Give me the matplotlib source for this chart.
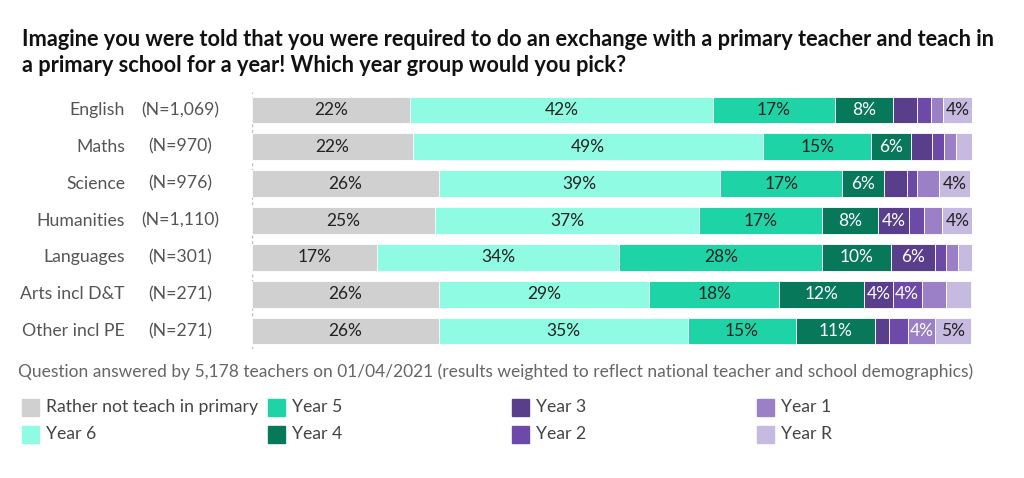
import matplotlib
matplotlib.use("Agg")
import numpy as np
from matplotlib import pyplot as plt
from matplotlib.patches import Rectangle

plt.rcParams["font.family"] = ["Lato", "DejaVu Sans"]

subjects = ["English", "Maths", "Science", "Humanities", "Languages", "Arts incl D&T", "Other incl PE"]
counts = ["(N=1,069)", "(N=970)", "(N=976)", "(N=1,110)", "(N=301)", "(N=271)", "(N=271)"]

series = ["Rather not teach in primary", "Year 6", "Year 5", "Year 4", "Year 3", "Year 2", "Year 1", "Year R"]
rather_not = [22.0, 22.4, 26.0, 25.4, 17.4, 26.0, 26.0]
year6 = [42.0, 48.6, 39.0, 36.7, 33.6, 29.2, 34.6]
year5 = [17.0, 15.0, 17.0, 17.0, 28.2, 18.0, 14.9]
year4 = [8.0, 5.5, 5.8, 7.9, 9.6, 11.8, 11.0]
year3 = [3.3, 3.0, 3.2, 4.3, 6.1, 4.0, 2.0]
year2 = [2.0, 1.6, 1.4, 2.1, 1.5, 4.0, 2.6]
year1 = [1.7, 1.7, 3.0, 2.5, 1.7, 3.4, 3.8]
year_r = [4.0, 2.3, 4.3, 4.2, 1.9, 3.4, 4.9]

colors = ["#d0d0d0", "#8ffbe3", "#1ed4a7", "#07795a", "#593e8c", "#6d4aa8", "#9b80c8", "#c7bae0"]
text_colors = ["#222222", "#222222", "#222222", "white", "white", "white", "white", "#222222"]

fig = plt.figure(figsize=(10.24, 4.78), dpi=100)
ax = fig.add_axes([252 / 1024, 1 - 349.4 / 478, 720 / 1024, 257.8 / 478])

data = [rather_not, year6, year5, year4, year3, year2, year1, year_r]
pos = np.arange(len(subjects))
left = np.zeros(len(subjects))
for vals, col, tcol in zip(data, colors, text_colors):
    vals = np.array(vals)
    ax.barh(pos, vals, left=left, height=0.73, color=col, edgecolor="white", linewidth=0.6)
    for i, v in enumerate(vals):
        if v >= 3.5:
            ax.text(left[i] + v / 2, pos[i], "{}%".format(int(round(v))), ha="center", va="center",
                    color=tcol, fontsize=12.5)
    left += vals

ax.set_xlim(0, 100)
ax.set_ylim(len(subjects) - 0.5, -0.5)
ax.axis("off")
ax.axvline(0, color="#bbbbbb", linestyle=(0, (2, 2)), linewidth=1, zorder=0)

# row labels
for i in range(len(subjects)):
    y = pos[i]
    ax.annotate(subjects[i], xy=(0, y), xycoords="data", xytext=(-127, 0), textcoords="offset pixels",
                ha="right", va="center", fontsize=12.7, color="#555555")
    ax.annotate(counts[i], xy=(0, y), xycoords="data", xytext=(-72, 0), textcoords="offset pixels",
                ha="center", va="center", fontsize=12.7, color="#555555")

fig.text(22 / 1024, 1 - 39 / 478, "Imagine you were told that you were required to do an exchange with a primary teacher and teach in",
         fontsize=15.7, fontweight="bold", color="#111111", va="center")
fig.text(22 / 1024, 1 - 65 / 478, "a primary school for a year! Which year group would you pick?",
         fontsize=15.7, fontweight="bold", color="#111111", va="center")

fig.text(18 / 1024, 1 - 372 / 478,
         "Question answered by 5,178 teachers on 01/04/2021 (results weighted to reflect national teacher and school demographics)",
         fontsize=12.5, color="#666666", va="center")

# legend, filled column by column
col_x = [22, 268, 512, 757]
row_y = [407, 434]
for k, name in enumerate(series):
    cx = col_x[k // 2]
    cy = row_y[k % 2]
    fig.patches.append(Rectangle((cx / 1024, 1 - (cy + 8.5) / 478), 17 / 1024, 17 / 478,
                                 transform=fig.transFigure, color=colors[k]))
    fig.text((cx + 24) / 1024, 1 - cy / 478, name, fontsize=12.7, color="#444444", va="center")

plt.savefig("out.png", dpi=100)
